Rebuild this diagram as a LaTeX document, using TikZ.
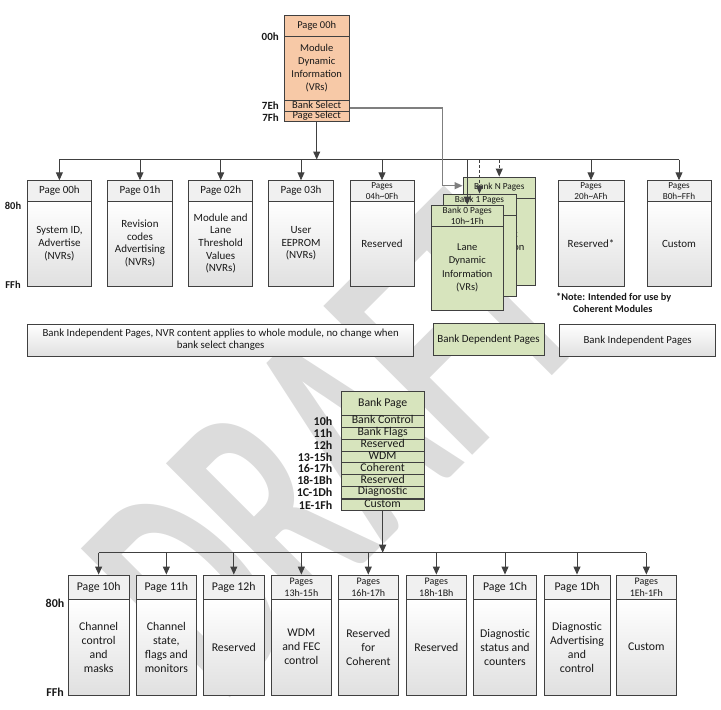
\documentclass[tikz,border=0pt]{standalone}
\usepackage{fontspec}
\setmainfont{Carlito}
\usetikzlibrary{arrows.meta,calc}
\definecolor{orng}{HTML}{F7C9A7}
\definecolor{grn}{HTML}{D7E4BD}
\definecolor{ln}{HTML}{404040}
\definecolor{hd}{HTML}{F0F0F0}
\definecolor{bd}{HTML}{E0E0E0}
\definecolor{wm}{HTML}{DCDCDC}
\definecolor{gl}{HTML}{7F7F7F}
\newcommand\fs[2]{\fontsize{#1}{#2}\selectfont}
\newcommand\PgBox[9]{%
  \node[hdr,#7,minimum width=#3,minimum height={#5-#4}] (#1h) at (#2,{(#4+#5)/2}) {#8};
  \node[bdy,bfont,minimum width=#3,minimum height={#6-#5}] (#1b) at (#2,{(#5+#6)/2}) {#9};}
\newcommand\GrBox[9]{%
  \node[gr,#7,minimum width=#3,minimum height={#5-#4}] (#1h) at (#2,{(#4+#5)/2}) {#8};
  \node[gr,bfont,minimum width=#3,minimum height={#6-#5}] (#1b) at (#2,{(#5+#6)/2}) {#9};}
\begin{document}
\begin{tikzpicture}[x=1pt,y=-1pt,
  bx/.style={draw=ln, line width=0.9pt, inner sep=0pt, align=center, text=black!90},
  hdr/.style={bx, fill=hd},
  bdy/.style={bx, top color=white, bottom color=bd},
  og/.style={bx, fill=orng},
  gr/.style={bx, fill=grn},
  row/.style={text height=7pt, text depth=2pt, inner ysep=0pt},
  conn/.style={draw=ln, line width=1pt},
  arr/.style={-{Triangle[length=8pt,width=7pt]}},
  lbl/.style={text=black!90, inner sep=0pt},
  h1/.style={font=\fs{11}{13}},
  h2/.style={font=\fs{9.2}{10.5}},
  h3/.style={font=\fs{11.8}{14}},
  h4/.style={font=\fs{10}{11.7}},
  h5/.style={font=\fs{9.3}{10.7}},
]
\useasboundingbox (0,0) rectangle (721,710);
% watermark
\node[text=wm, font=\fs{191}{191}\bfseries, inner sep=0pt, anchor=base west, rotate=45, yscale=1.7] (wmark) at (222,706) {DRAFT};

% ---------- top box ----------
\node[og, font=\fs{10.5}{13}, minimum width=65.3, minimum height=21] (thdr) at (316.7,25.5) {Page 00h};
\node[og, font=\fs{10.5}{13}, minimum width=65.3, minimum height=64] (tbody) at (316.7,68) {Module\\Dynamic\\Information\\(VRs)};
\node[og, row, font=\fs{10.5}{12}, minimum width=65.3, minimum height=11.7] (tbank) at (316.7,105.85) {Bank Select};
\node[og, row, font=\fs{10.5}{12}, minimum width=65.3, minimum height=9.3] (tpage) at (316.7,116.35) {Page Select};
\node[lbl, font=\fs{11}{12}\bfseries, anchor=east] (l00) at (279,37) {00h};
\node[lbl, font=\fs{11}{12}\bfseries, anchor=east] (l7e) at (279,105.7) {7Eh};
\node[lbl, font=\fs{11}{12}\bfseries, anchor=east] (l7f) at (279,117.3) {7Fh};

% ---------- middle row ----------
\coordinate (busA) at (0,159.5);
\begin{scope}[bfont/.style={font=\fs{11}{12.7}}]
\PgBox{b1}{59.4}{64}{180.7}{201}{286}{h1}{Page 00h}{System ID,\\Advertise\\(NVRs)}
\PgBox{b2}{140}{65}{180.7}{201}{286}{h1}{Page 01h}{Revision\\codes\\Advertising\\(NVRs)}
\PgBox{b3}{220.7}{64}{180.7}{201}{286}{h1}{Page 02h}{Module and\\Lane\\Threshold\\Values\\(NVRs)}
\PgBox{b4}{301}{65}{180.7}{201}{286}{h1}{Page 03h}{User\\EEPROM\\(NVRs)}
\PgBox{b5}{382}{64}{180.7}{201}{286}{h2}{Pages\\04h\textasciitilde 0Fh}{Reserved}
\PgBox{b6}{591}{66}{180.7}{201}{286}{h2}{Pages\\20h\textasciitilde AFh}{Reserved*}
\PgBox{b7}{679}{64}{180.7}{201}{286}{h2}{Pages\\B0h\textasciitilde FFh}{Custom}
\end{scope}
\node[lbl, font=\fs{10.5}{12}\bfseries] (m80) at (13,205.5) {80h};
\node[lbl, font=\fs{10.5}{12}\bfseries] (mff) at (13,284.5) {FFh};

% green stack
\begin{scope}[bfont/.style={font=\fs{10.5}{13.3}}]
\GrBox{bkN}{499.25}{72.5}{177}{198}{285}{h5}{Bank N Pages}{Lane\\Dynamic\\Information\\(VRs)}
\GrBox{bk1}{479.5}{73}{194}{215}{296.7}{h5}{Bank 1 Pages\\10h\textasciitilde 1Fh}{Lane\\Dynamic\\Information\\(VRs)}
\GrBox{bk0}{467.25}{72.5}{205}{226}{310}{h5}{Bank 0 Pages\\10h\textasciitilde 1Fh}{Lane\\Dynamic\\Information\\(VRs)}
\end{scope}

% notes
\node[bdy, font=\fs{10.8}{11.7}, minimum width=386, minimum height=32] (nvr) at (220.65,340) {Bank Independent Pages, NVR content applies to whole module, no change when\\bank select changes};
\node[gr, font=\fs{11}{12}, minimum width=111, minimum height=32] (bdep) at (488.5,339.5) {Bank Dependent Pages};
\node[bdy, font=\fs{10.8}{12}, minimum width=156, minimum height=32] (bind) at (637.6,340.2) {Bank Independent Pages};
\node[lbl, font=\fs{10.3}{12.6}\bfseries, align=left, anchor=west] (note) at (556,303) {*Note: Intended for use by\\\hspace*{17pt}Coherent Modules};

% connectors middle
\draw[conn] (b1h.north |- busA) -- (b7h.north |- busA);
\draw[conn,arr] (tpage.south) -- (tpage.south |- busA);
\foreach \n in {b1,b2,b3,b4,b5,b6,b7,bk0}{\draw[conn,arr] (\n h.north |- busA) -- (\n h.north);}
\draw[conn,arr,dash pattern=on 3pt off 2pt] (bk1h.north |- busA) -- (bk1h.north);
\draw[conn,arr,dash pattern=on 3pt off 2pt] (bkNh.north |- busA) -- (bkNh.north);
\draw[draw=gl, line width=1.3pt, arr] ([yshift=-2pt]tbank.east) -| ($(bkNh.west)+(-20,-1.8)$) -- ([yshift=1.8pt]bkNh.west);

% ---------- bank page ----------
\node[gr, font=\fs{11.8}{13}, minimum width=83.3, minimum height=23.8] (bph) at (382.65,403.6) {Bank Page};
\node[gr, row, font=\fs{11.8}{13}, minimum width=83.3, minimum height=11.83] (r1) at (382.65,421.4) {Bank Control};
\node[gr, row, font=\fs{11.8}{13}, minimum width=83.3, minimum height=11.83] (r2) at (382.65,433.2) {Bank Flags};
\node[gr, row, font=\fs{11.8}{13}, minimum width=83.3, minimum height=11.83] (r3) at (382.65,445.1) {Reserved};
\node[gr, row, font=\fs{11.8}{13}, minimum width=83.3, minimum height=11.83] (r4) at (382.65,456.9) {WDM};
\node[gr, row, font=\fs{11.8}{13}, minimum width=83.3, minimum height=11.83] (r5) at (382.65,468.7) {Coherent};
\node[gr, row, font=\fs{11.8}{13}, minimum width=83.3, minimum height=11.83] (r6) at (382.65,480.5) {Reserved};
\node[gr, row, font=\fs{11.8}{13}, minimum width=83.3, minimum height=11.83] (r7) at (382.65,492.4) {Diagnostic};
\node[gr, row, font=\fs{11.8}{13}, minimum width=83.3, minimum height=11.2] (r8) at (382.65,505.1) {Custom};
\draw[draw=ln, line width=1.6pt] (r7.south west) -- (r7.south east);
\foreach \r/\t in {r1/10h,r2/11h,r3/12h,r4/13-15h,r5/16-17h,r6/18-1Bh,r7/1C-1Dh,r8/1E-1Fh}{
  \node[lbl, font=\fs{12}{12}\bfseries, anchor=east] (lb\r) at ($(\r.west)+(-8,0)$) {\t};}

% ---------- bottom row ----------
\coordinate (busB) at (0,552.7);
\begin{scope}[bfont/.style={font=\fs{11.8}{14}}]
\PgBox{c1}{98.65}{60.7}{575}{599.3}{695}{h3}{Page 10h}{Channel\\control\\and\\masks}
\PgBox{c2}{166.35}{59.3}{575}{599.3}{695}{h3}{Page 11h}{Channel\\state,\\flags and\\monitors}
\PgBox{c3}{233.8}{61}{575}{599.3}{695}{h3}{Page 12h}{Reserved}
\PgBox{c4}{301.35}{60.7}{575}{599.3}{695}{h4}{Pages\\13h-15h}{WDM\\and FEC\\control}
\PgBox{c5}{368.3}{60}{575}{599.3}{695}{h4}{Pages\\16h-17h}{Reserved\\for\\Coherent}
\PgBox{c6}{436.35}{60.7}{575}{599.3}{695}{h4}{Pages\\18h-1Bh}{Reserved}
\PgBox{c7}{505}{63.4}{575}{599.3}{695}{h3}{Page 1Ch}{Diagnostic\\status and\\counters}
\PgBox{c8}{577}{66}{575}{599.3}{695}{h3}{Page 1Dh}{Diagnostic\\Advertising\\and\\control}
\PgBox{c9}{646.35}{59.3}{575}{599.3}{695}{h4}{Pages\\1Eh-1Fh}{Custom}
\end{scope}
\node[lbl, font=\fs{12}{12}\bfseries] (b80) at (55,603.5) {80h};
\node[lbl, font=\fs{12}{12}\bfseries] (bff) at (55,692.5) {FFh};

\draw[conn] (c1h.north |- busB) -- (c9h.north |- busB);
\draw[conn,arr] (r8.south) -- (r8.south |- busB);
\foreach \n in {c1,c2,c3,c4,c5,c6,c7,c8,c9}{\draw[conn,arr] (\n h.north |- busB) -- (\n h.north);}
\end{tikzpicture}
\end{document}
